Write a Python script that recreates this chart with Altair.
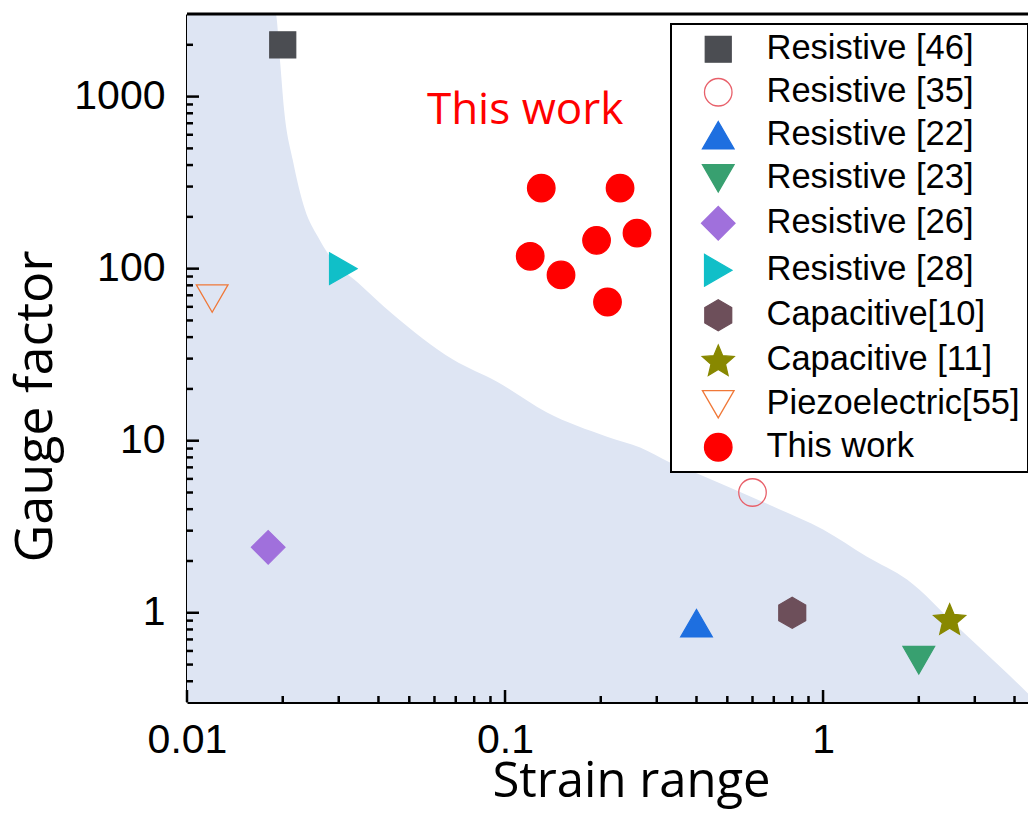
import math
import altair as alt
import pandas as pd

# ---------------- data ----------------
series_names = ["Resistive [46]", "Resistive [35]", "Resistive [22]", "Resistive [23]",
                "Resistive [26]", "Resistive [28]", "Capacitive[10]", "Capacitive [11]",
                "Piezoelectric[55]", "This work"]

ref_names = ["Resistive [46]", "Resistive [35]", "Resistive [22]", "Resistive [23]",
             "Resistive [26]", "Resistive [28]", "Capacitive[10]", "Capacitive [11]",
             "Piezoelectric[55]"]
ref_strain = [0.02, 0.6, 0.4, 2.0, 0.018, 0.031, 0.8, 2.5, 0.012]
ref_gf = [2000, 5.0, 0.87, 0.53, 2.4, 100, 1.0, 0.92, 67]

this_strain = [0.13, 0.23, 0.12, 0.15, 0.194, 0.26, 0.21]
this_gf = [294, 294, 118, 92, 146, 161, 64]

shade_strain = [0.01, 0.0190, 0.0196, 0.0202, 0.0215, 0.0235, 0.0258, 0.0282, 0.0345,
                0.0440, 0.0686, 0.0944, 0.1355, 0.2093, 0.266, 0.330, 0.432,
                0.697, 1.0, 1.375, 1.837, 2.64, 3.60, 4.41]
shade_gf = [3020, 3020, 1634, 837, 429, 220, 153, 117, 82.8,
            55.0, 29.6, 22.0, 14.6, 10.56, 9.12, 7.46, 6.1,
            4.14, 3.05, 2.12, 1.56, 0.833, 0.488, 0.34]

x_labels = [0.01, 0.1, 1]
x_minor = [0.02, 0.03, 0.04, 0.05, 0.06, 0.07, 0.08, 0.09,
           0.2, 0.3, 0.4, 0.5, 0.6, 0.7, 0.8, 0.9, 2, 3, 4]
y_labels = [1, 10, 100, 1000]
y_minor = [0.4, 0.5, 0.6, 0.7, 0.8, 0.9, 2, 3, 4, 5, 6, 7, 8, 9,
           20, 30, 40, 50, 60, 70, 80, 90, 200, 300, 400, 500, 600, 700, 800, 900, 2000]

annot_text = ["This work"]
annot_strain = [0.0568]
annot_gf = [694]

# ---------------- styles ----------------
def star_path(R=1.06, r=0.48, dy=0.1):
    pts = []
    for k in range(10):
        a = math.radians(-90 + 36 * k)
        rr = R if k % 2 == 0 else r
        pts.append((rr * math.cos(a), rr * math.sin(a) + dy))
    return "M" + "L".join(f"{px:.3f},{py:.3f}" for px, py in pts) + "Z"

SQUARE = "M-0.82,-0.82L0.82,-0.82L0.82,0.82L-0.82,0.82Z"
CIRCLE = "M0.87,0A0.87,0.87,0,1,1,-0.87,0A0.87,0.87,0,1,1,0.87,0Z"
TRI_UP = "M0,-0.866L1,0.866L-1,0.866Z"
TRI_DOWN = "M0,0.866L1,-0.866L-1,-0.866Z"
DIAMOND = "M0,-1.06L1.06,0L0,1.06L-1.06,0Z"
TRI_RIGHT = "M0.866,0L-0.866,-1L-0.866,1Z"
HEXAGON = "M0,-0.98L0.85,-0.49L0.85,0.49L0,0.98L-0.85,0.49L-0.85,-0.49Z"
STAR = star_path()

shapes = [SQUARE, CIRCLE, TRI_UP, TRI_DOWN, DIAMOND, TRI_RIGHT, HEXAGON, STAR, TRI_DOWN, CIRCLE]
strokes = ["#4b4d52", "#e8606a", "#1e6fe0", "#38a070", "#a070dc", "#10bfc8",
           "#6d4f5a", "#888800", "#f07838", "#ff0000"]
fills = ["#4b4d52", "transparent", "#1e6fe0", "#38a070", "#a070dc", "#10bfc8",
         "#6d4f5a", "#888800", "transparent", "#ff0000"]
SHADE = "#dee5f3"

W, H = 841, 688
X_MIN, X_MAX = 0.01, 4.41
Y_MIN, Y_MAX = 0.303, 3020

# ---------------- tables ----------------
df_pts = pd.DataFrame({
    "series": ref_names + ["This work"] * len(this_strain),
    "x": ref_strain + this_strain,
    "y": ref_gf + this_gf,
})
df_shade = pd.DataFrame({"x": shade_strain, "y": shade_gf})
df_annot = pd.DataFrame({"x": annot_strain, "y": annot_gf, "t": annot_text})

xs = alt.Scale(type="log", domain=[X_MIN, X_MAX], nice=False)
ys = alt.Scale(type="log", domain=[Y_MIN, Y_MAX], nice=False)

x_axis = alt.Axis(values=x_labels, format="~g", ticks=False, grid=False,
                  domainColor="black", domainWidth=3, labelFlush=False,
                  labelFont="Liberation Sans", labelFontSize=41, labelColor="black",
                  labelPadding=18, title="Strain range", titleFont="Open Sans",
                  titleFontSize=49, titleFontWeight="normal", titleColor="black",
                  titleX=444, titleY=94, titleBaseline="alphabetic", titleAlign="center")
y_axis = alt.Axis(values=y_labels, format="~g", ticks=False, grid=False,
                  domainColor="black", domainWidth=3, labelFlush=False,
                  labelFont="Liberation Sans", labelFontSize=41, labelColor="black",
                  labelPadding=22, title="Gauge factor", titleFont="Open Sans",
                  titleFontSize=52, titleFontWeight="normal", titleColor="black",
                  titleX=-136, titleY=392, titleAngle=270, titleBaseline="alphabetic",
                  titleAlign="center")

X = alt.X("x:Q", scale=xs, axis=x_axis, title="Strain range")
Y = alt.Y("y:Q", scale=ys, axis=y_axis, title="Gauge factor")

legend = alt.Legend(title=None, orient="none", legendX=484, legendY=10, padding=8,
                    fillColor="white", strokeColor="black", symbolSize=1000,
                    symbolStrokeWidth=1.3, labelFont="Liberation Sans", labelFontSize=34.5,
                    labelColor="black", labelLimit=600, rowPadding=8,
                    symbolOffset=22, labelOffset=31)

shade = alt.Chart(df_shade).mark_area(color=SHADE, interpolate="monotone", clip=True).encode(
    x=X, y=Y, y2=alt.datum(Y_MIN))

xt_major = alt.Chart(pd.DataFrame({"x": x_labels})).mark_rule(color="black", strokeWidth=2.5).encode(
    x=X, y=alt.value(H), y2=alt.value(H - 12))
xt_minor = alt.Chart(pd.DataFrame({"x": x_minor})).mark_rule(color="black", strokeWidth=2.5).encode(
    x=X, y=alt.value(H), y2=alt.value(H - 6))
yt_major = alt.Chart(pd.DataFrame({"y": y_labels})).mark_rule(color="black", strokeWidth=2.5).encode(
    y=Y, x=alt.value(0), x2=alt.value(12))
yt_minor = alt.Chart(pd.DataFrame({"y": y_minor})).mark_rule(color="black", strokeWidth=2.5).encode(
    y=Y, x=alt.value(0), x2=alt.value(6))
frame_top = alt.Chart(pd.DataFrame({"k": [0]})).mark_rule(color="black", strokeWidth=3).encode(
    x=alt.value(0), x2=alt.value(W), y=alt.value(0))

points = alt.Chart(df_pts).mark_point(size=1000, strokeWidth=1.3, opacity=1).encode(
    x=X, y=Y,
    shape=alt.Shape("series:N", scale=alt.Scale(domain=series_names, range=shapes),
                    sort=series_names, legend=legend),
    fill=alt.Fill("series:N", scale=alt.Scale(domain=series_names, range=fills),
                  sort=series_names, legend=legend),
    stroke=alt.Stroke("series:N", scale=alt.Scale(domain=series_names, range=strokes),
                      sort=series_names, legend=legend),
)

annot = alt.Chart(df_annot).mark_text(align="left", baseline="alphabetic", font="Open Sans",
                                      fontSize=44, color="#ff0000").encode(
    x=X, y=Y, text="t:N")

chart = alt.layer(shade, xt_major, xt_minor, yt_major, yt_minor, frame_top, points, annot).properties(
    width=W, height=H,
    autosize=alt.AutoSizeParams(type="none"),
    padding={"left": 179, "top": 6, "right": 0, "bottom": 117},
).configure_view(strokeWidth=0).configure_legend(strokeWidth=2)

chart.save("out.html", embed_options={"renderer": "svg", "actions": False})
